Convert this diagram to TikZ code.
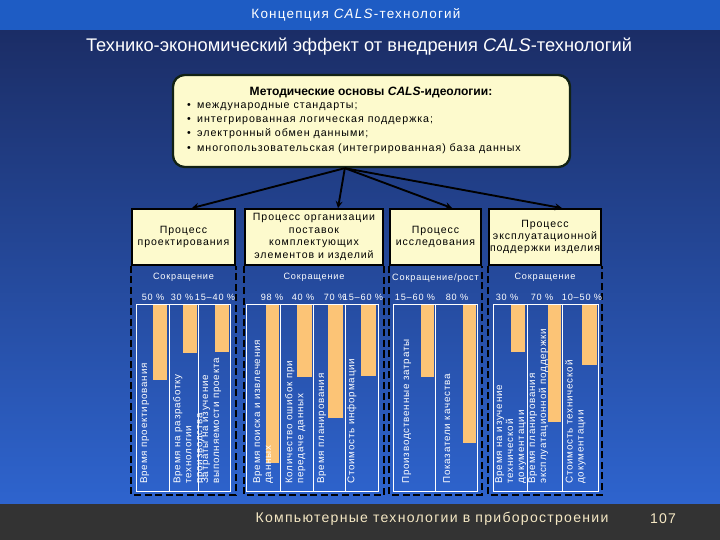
\documentclass[tikz,border=0pt]{standalone}
\usepackage{fontspec}
\setmainfont{Liberation Sans}
\newfontfamily\spacedfont[LetterSpace=9]{Liberation Sans}
\newfontfamily\widefont[LetterSpace=8]{Liberation Sans}
\usetikzlibrary{shapes,arrows,positioning,calc}
\definecolor{navy}{RGB}{27,45,102}
\definecolor{brightblue}{RGB}{46,100,206}
\definecolor{bandblue}{RGB}{30,92,196}
\definecolor{cream}{RGB}{253,250,205}
\definecolor{barorange}{RGB}{252,196,118}
\definecolor{footgray}{RGB}{51,51,51}
\definecolor{foottext}{RGB}{245,232,196}
\definecolor{boxedge}{RGB}{18,34,20}

\begin{document}
\begin{tikzpicture}[
    x=0.03cm, y=-0.03cm,
    procbox/.style={rectangle, draw=black, line width=1.5pt, fill=cream, align=center,
        inner sep=1pt, minimum height=1.68cm, font=\spacedfont\fontsize{9}{10.6}\selectfont},
    groupframe/.style={draw=black, line width=1.4pt, dash pattern=on 6pt off 3pt},
    panel/.style={draw=white, line width=0.6pt},
    bar/.style={fill=barorange},
    pct/.style={text=white, inner sep=0, font=\spacedfont\fontsize{7.8}{10}\selectfont},
    cut/.style={text=white, inner sep=0, font=\spacedfont\fontsize{7.8}{9}\selectfont},
    barlabel/.style={text=white, rotate=90, anchor=north west, align=left, inner sep=0,
        font=\widefont\fontsize{8.4}{9.4}\selectfont},
    link/.style={->, >=stealth, line width=1.6pt, black}
]
    \useasboundingbox (0,0) rectangle (720,540);

    % Background
    \shade[top color=navy, bottom color=brightblue] (0,30) rectangle (720,504);
    \fill[bandblue] (0,0) rectangle (720,30);
    \fill[footgray] (0,504) rectangle (720,540);

    % Titles
    \node[text=white, font=\spacedfont\fontsize{11.5}{13}\selectfont] (title) at (356,15) {Концепция \textit{CALS}-технологий};
    \node[text=white, font=\fontsize{15.6}{18}\selectfont] (subtitle) at (359,47) {Технико-экономический эффект от внедрения \textit{CALS}-технологий};

    % Methods box
    \node[draw=boxedge, line width=2pt, fill=cream, rounded corners=10pt,
        minimum width=11.91cm, minimum height=2.76cm] (methods) at (371.5,121) {};
    \node[font=\bfseries\fontsize{10.3}{12}\selectfont] (methodstitle) at (371,92) {Методические основы \textit{CALS}-идеологии:};
    \node[anchor=west, align=left, inner sep=0, font=\spacedfont\fontsize{9.1}{12.3}\selectfont] (methodslist) at (187,128)
        {\makebox[8.5pt][l]{\textbullet}международные стандарты;\\
         \makebox[8.5pt][l]{\textbullet}интегрированная логическая поддержка;\\
         \makebox[8.5pt][l]{\textbullet}электронный обмен данными;\\
         \makebox[8.5pt][l]{\textbullet}многопользовательская (интегрированная) база данных};

    % Process boxes
    \node[procbox, minimum width=3.09cm] (proc1) at (183.5,237) {Процесс\\проектирования};
    \node[procbox, minimum width=4.14cm] (proc2) at (314,237) {Процесс организации\\поставок\\комплектующих\\элементов и изделий};
    \node[procbox, minimum width=2.73cm] (proc3) at (435.5,237) {Процесс\\исследования};
    \node[procbox, minimum width=3.36cm] (proc4) at (545,237) {Процесс\\эксплуатационной\\поддержки изделия};

    % Links
    \draw[link] ([xshift=-0.8cm]methods.south) -- ([xshift=0.25cm]proc1.north);
    \draw[link] ([xshift=-0.8cm]methods.south) -- ([xshift=0.72cm]proc2.north);
    \draw[link] ([xshift=-0.8cm]methods.south) -- ([xshift=0.5cm]proc3.north);
    \draw[link] ([xshift=-0.8cm]methods.south) -- ([xshift=0.51cm]proc4.north);

    % Group frames
    \foreach \g in {proc1,proc2,proc3,proc4}
        \draw[groupframe] (\g.south west) -- ++(0,229) -| (\g.south east);

    \node[cut, below=0.22cm of proc1] (cut1) {Сокращение};
    \node[cut, below=0.22cm of proc2] (cut2) {Сокращение};
    \node[cut, below=0.22cm of proc3] (cut3) {Сокращение/рост};
    \node[cut, below=0.22cm of proc4] (cut4) {Сокращение};

    % Bars
    \foreach \a/\b/\c in {153/167/380, 183/197/353, 215/229/352,
                          266/279/463, 297/312/377, 328/343/418, 361/376/376,
                          421/434/377, 463/476/443,
                          511/525/352, 548/561/422, 582/597/365}
        \fill[bar] (\a,304) rectangle (\b,\c);

    % Panels
    \draw[panel] (136,304) rectangle (230,491);
    \draw[panel] (246,304) rectangle (378,491);
    \draw[panel] (393,304) rectangle (477,491);
    \draw[panel] (493,304) rectangle (598,491);
    \foreach \x in {169,198,280,313,345,435,527,562}
        \draw[panel] (\x,304) -- (\x,491);

    % Percentages
    \node[pct] (p11) at (153,297) {50 \%};
    \node[pct] (p12) at (182,297) {30 \%};
    \node[pct] (p13) at (215,297) {15–40 \%};
    \node[pct] (p21) at (272,297) {98 \%};
    \node[pct] (p22) at (303,297) {40 \%};
    \node[pct] (p23) at (335,297) {70 \%};
    \node[pct] (p24) at (363,297) {15–60 \%};
    \node[pct] (p31) at (415,297) {15–60 \%};
    \node[pct] (p32) at (457,297) {80 \%};
    \node[pct] (p41) at (507,297) {30 \%};
    \node[pct] (p42) at (542,297) {70 \%};
    \node[pct] (p43) at (582,297) {10–50 \%};

    % Bar labels
    \node[barlabel] (l11) at (140,484) {Время проектирования};
    \node[barlabel] (l12) at (173,484) {Время на разработку\\технологии\\производства};
    \node[barlabel] (l13) at (201,484) {Затраты на изучение\\выполняемости проекта};
    \node[barlabel] (l21) at (253,484) {Время поиска и извлечения\\данных};
    \node[barlabel] (l22) at (285,484) {Количество ошибок при\\передаче данных};
    \node[barlabel] (l23) at (317,484) {Время планирования};
    \node[barlabel] (l24) at (347,484) {Стоимость информации};
    \node[barlabel] (l31) at (402,484) {Производственные затраты};
    \node[barlabel] (l32) at (443,484) {Показатели качества};
    \node[barlabel] (l41) at (495,484) {Время на изучение\\технической\\документации};
    \node[barlabel] (l42) at (528,484) {Время планирования\\эксплуатационной поддержки};
    \node[barlabel] (l43) at (565,484) {Стоимость технической\\документации};

    % Footer
    \node[text=foottext, font=\spacedfont\fontsize{12}{13}\selectfont] (footer) at (432,519) {Компьютерные технологии в приборостроении};
    \node[text=foottext, font=\spacedfont\fontsize{12}{13}\selectfont] (pageno) at (663,519) {107};
\end{tikzpicture}
\end{document}
